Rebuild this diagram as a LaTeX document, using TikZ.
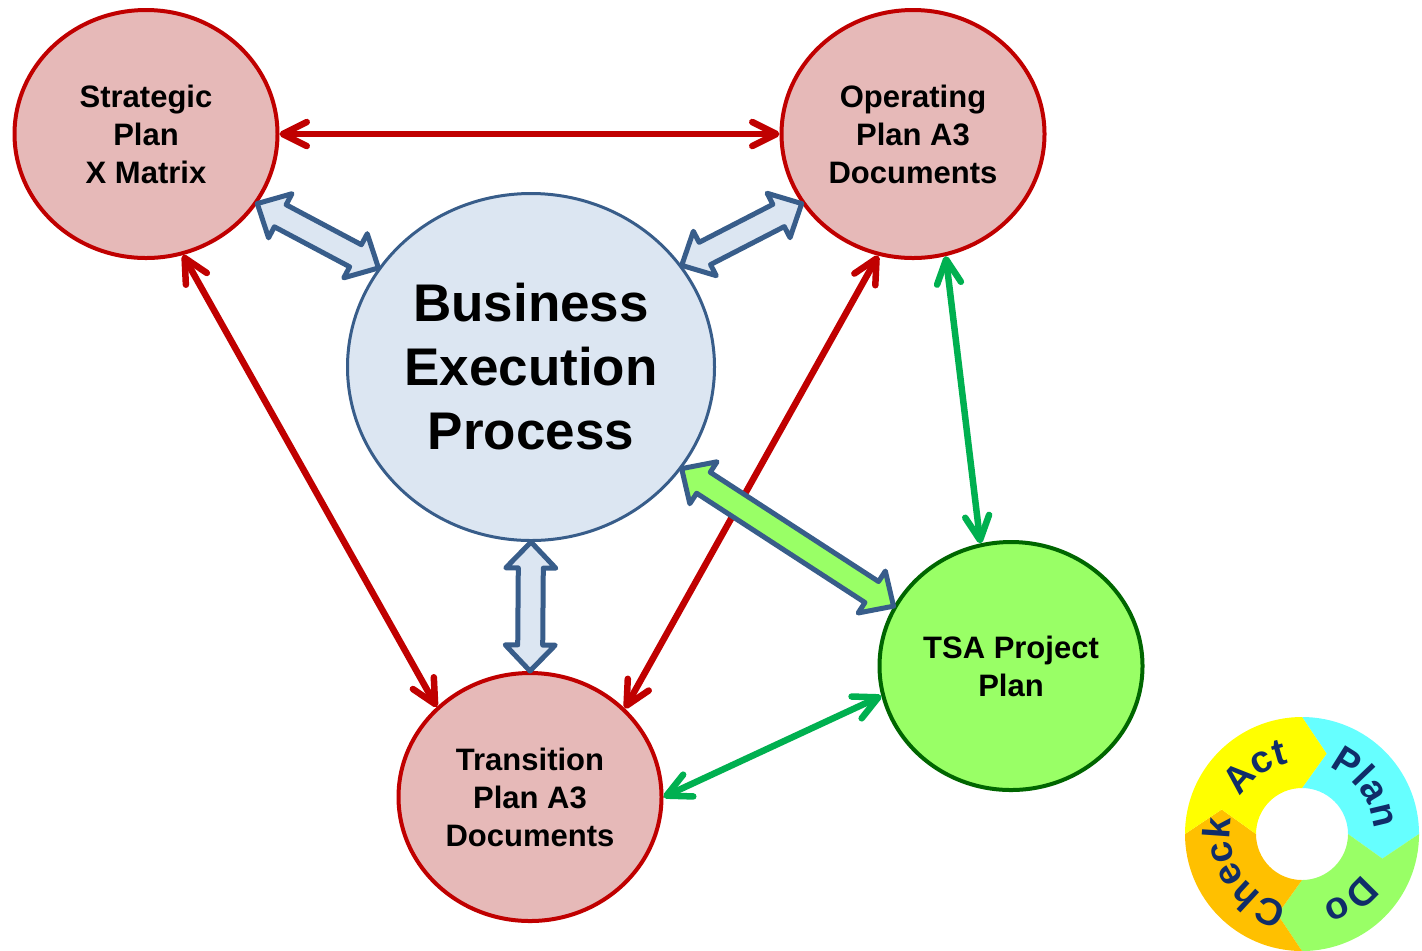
\documentclass[tikz,border=0pt]{standalone}
\usepackage{fontspec}
\setmainfont{Liberation Sans}
\usetikzlibrary{shapes.geometric,arrows.meta,calc,decorations.text}
\definecolor{planred}{RGB}{192,0,0}
\definecolor{planpink}{RGB}{230,185,184}
\definecolor{bepblue}{RGB}{56,93,138}
\definecolor{bepfill}{RGB}{220,230,242}
\definecolor{tsagreen}{RGB}{0,102,0}
\definecolor{tsafill}{RGB}{153,255,102}
\definecolor{linkgreen}{RGB}{0,176,80}
\definecolor{actcol}{RGB}{255,255,0}
\definecolor{plancol}{RGB}{102,255,255}
\definecolor{docol}{RGB}{153,255,102}
\definecolor{checkcol}{RGB}{255,192,0}
\definecolor{pdcatext}{RGB}{16,45,105}
\tikzstyle{plan} = [
    ellipse, draw=planred, fill=planpink, line width=2pt, inner sep=0pt,
    minimum width=131.5pt, minimum height=124pt, align=center,
    font=\bfseries\fontsize{15.5}{19}\selectfont]
\tikzstyle{core} = [
    ellipse, draw=bepblue, fill=bepfill, line width=1.5pt, inner sep=0pt,
    minimum width=183.5pt, minimum height=173.5pt, align=center,
    font=\bfseries\fontsize{26.5}{32}\selectfont]
\tikzstyle{project} = [plan, draw=tsagreen, fill=tsafill]
\tikzstyle{redlink} = [draw=planred, line width=3.25pt,
    {Straight Barb[length=12pt,width=12pt,round]}-{Straight Barb[length=12pt,width=12pt,round]}]
\tikzstyle{greenlink} = [redlink, draw=linkgreen]
\tikzstyle{block} = [draw=bepblue, fill=bepfill, line width=2.5pt, line join=round]
\tikzstyle{greenblock} = [block, fill=tsafill]
\tikzstyle{pdcaword} = [decorate, decoration={text along path, text align=center, text color=pdcatext}]
\newcommand{\pdcafont}{\bfseries\fontsize{19}{19}\selectfont}
\newcommand{\blockarrow}[3][block]{%
  \draw[#1] let \p1=(#2), \p2=(#3), \n1={atan2(\y2-\y1,\x2-\x1)},
      \n2={veclen(\x2-\x1,\y2-\y1)}, \n3={\n2-13pt} in
    [shift={(\p1)}, rotate=\n1] (0pt,0pt) -- (13pt,12.5pt) -- (13pt,6.25pt)
    -- (\n3,6.25pt) -- (\n3,12.5pt) -- (\n2,0pt) -- (\n3,-12.5pt)
    -- (\n3,-6.25pt) -- (13pt,-6.25pt) -- (13pt,-12.5pt) -- cycle;}
\newcommand{\ringword}[2]{%
  \path [pdcaword, decoration={text={|\pdcafont|#1}}]
    ($(pdca)+({#2+80}:72)$) arc[start angle=#2+80, end angle=#2-80, radius=72];}

\begin{document}
\begin{tikzpicture}[x=0.5pt, y=0.5pt]
\useasboundingbox (0,0) rectangle (1422,-950);

\node (strat) [plan] at (146,-134) {Strategic\\Plan\\X Matrix};
\node (oper) [plan] at (913,-134) {Operating\\Plan A3\\Documents};
\node (bep) [core] at (531,-367) {Business\\Execution\\Process};
\node (trans) [plan] at (530,-797) {Transition\\Plan A3\\Documents};
\node (tsa) [project] at (1011,-666) {TSA Project\\Plan};

\draw [redlink] (strat.0) -- (oper.180);
\draw [redlink] (strat.-73) -- (trans.136);
\draw [redlink] (oper.-106) -- (trans.43);
\draw [greenlink] (oper.-75) -- (tsa.104);
\draw [greenlink] (tsa.193) -- (trans.0);

\blockarrow{strat.-32}{bep.147}
\blockarrow{oper.212}{bep.34}
\blockarrow{bep.-90}{trans.90}
\blockarrow[greenblock]{bep.-34}{tsa.153}

% PDCA wheel
\coordinate (pdca) at (1302,-834);
\foreach \s/\c in {90/plancol, 0/docol, -90/checkcol, 180/actcol}
  \fill[\c] ($(pdca)+(\s:117)$) arc[start angle=\s, end angle=\s-90, radius=117]
    -- ($(pdca)+({\s-107}:84)$) -- ($(pdca)+({\s-90}:46)$)
    arc[start angle=\s-90, end angle=\s, radius=46]
    -- ($(pdca)+({\s-17}:84)$) -- cycle;
\ringword{Plan}{36}
\ringword{Do}{-54}
\ringword{Check}{213}
\ringword{Act}{125}
\end{tikzpicture}
\end{document}
